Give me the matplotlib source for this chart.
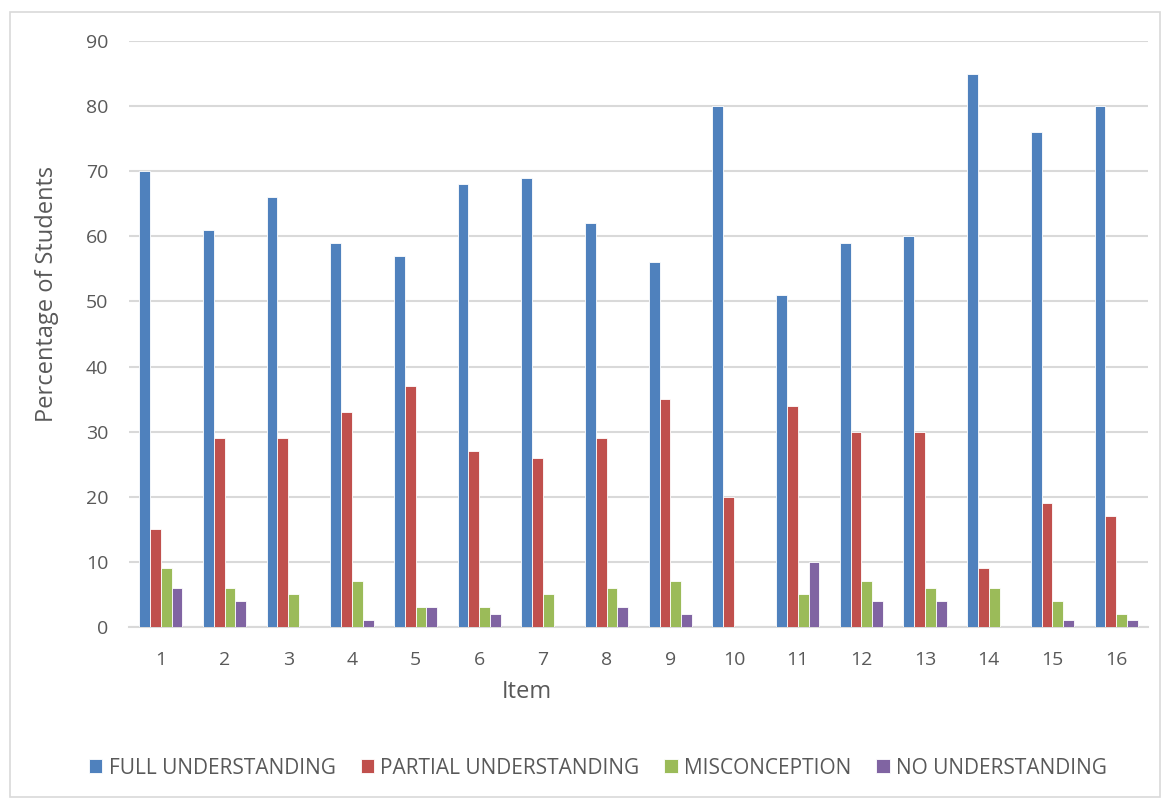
import matplotlib
matplotlib.use("Agg")
import matplotlib.pyplot as plt
from matplotlib.patches import Rectangle
import numpy as np

plt.rcParams['font.family'] = ['Open Sans', 'DejaVu Sans']

items = [str(i) for i in range(1, 17)]
full = [70, 61, 66, 59, 57, 68, 69, 62, 56, 80, 51, 59, 60, 85, 76, 80]
partial = [15, 29, 29, 33, 37, 27, 26, 29, 35, 20, 34, 30, 30, 9, 19, 17]
misconception = [9, 6, 5, 7, 3, 3, 5, 6, 7, 0, 5, 7, 6, 6, 4, 2]
none_ = [6, 4, 0, 1, 3, 2, 0, 3, 2, 0, 10, 4, 4, 0, 1, 1]

series = [
    ("FULL UNDERSTANDING", full, "#4F81BD"),
    ("PARTIAL UNDERSTANDING", partial, "#C0504D"),
    ("MISCONCEPTION", misconception, "#9BBB59"),
    ("NO UNDERSTANDING", none_, "#8064A2"),
]

text_color = "#595959"
grid_color = "#D9D9D9"

fig = plt.figure(figsize=(11.68, 8.01), dpi=100)
fig.patches.append(Rectangle((10 / 1168, 1 - 797 / 801), 1150 / 1168, 785 / 801,
                             transform=fig.transFigure, fill=False,
                             edgecolor="#D9D9D9", linewidth=1.2))

ax = fig.add_axes([129 / 1168, 1 - 627 / 801, (1148 - 129) / 1168, (627 - 41) / 801])

x = np.arange(len(items))
w = 0.17
for k, (name, vals, col) in enumerate(series):
    ax.bar(x + (k - 1.5) * w, vals, width=w, color=col, edgecolor="white",
           linewidth=0.6, label=name, zorder=3)

ax.set_xlim(-0.5, len(items) - 0.5)
ax.set_ylim(0, 90)
ax.set_yticks(range(0, 91, 10))
ax.set_xticks(x)
ax.set_xticklabels(items)
ax.yaxis.grid(True, color=grid_color, linewidth=1.5, zorder=0)
ax.set_axisbelow(True)
for s in ["top", "right", "left"]:
    ax.spines[s].set_visible(False)
ax.spines["bottom"].set_color(grid_color)
ax.spines["bottom"].set_linewidth(1.5)
ax.tick_params(axis="both", length=0, labelsize=14, colors=text_color)
ax.tick_params(axis="y", pad=15)
ax.tick_params(axis="x", pad=17)

ax.set_ylabel("Percentage of Students", fontsize=17, color=text_color)
ax.yaxis.set_label_coords(-82 / 1019, (627 - 294) / 586)
ax.set_xlabel("Item", fontsize=17, color=text_color)
ax.xaxis.set_label_coords((527 - 129) / 1019, -(692 - 627) / 586)
ax.xaxis.label.set_va("center")
ax.yaxis.label.set_va("center")

fig.legend(loc="center", bbox_to_anchor=(598 / 1168, 1 - 768 / 801), ncol=4,
           frameon=False, fontsize=15, labelcolor=text_color,
           handlelength=0.65, handleheight=0.65, handletextpad=0.3, columnspacing=1.2)

fig.savefig("out.png", dpi=100, facecolor="white")
